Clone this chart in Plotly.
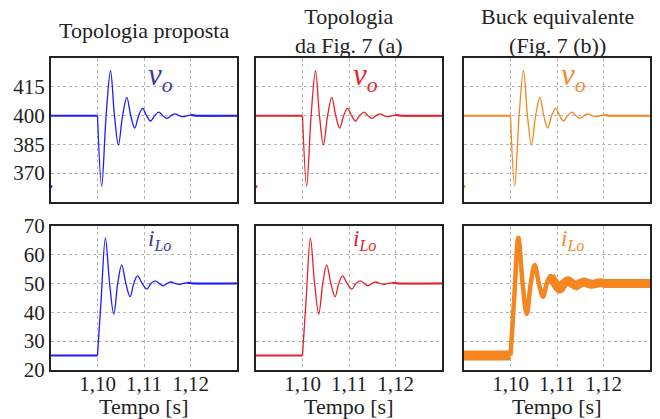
import plotly.graph_objects as go

# ---------------- data ----------------
t_pre = [1.09, 1.10]
v_pre = [400, 400]
i_pre = [25, 25]
t_init = [1.09]
v_init = [363]

t_v = [1.1000, 1.1009, 1.10185, 1.1028, 1.10365, 1.1045, 1.1054, 1.1063, 1.10715,
       1.1080, 1.10885, 1.1097, 1.11055, 1.1114, 1.1123, 1.1132, 1.11405, 1.1149,
       1.1158, 1.1167, 1.11755, 1.1184, 1.1193, 1.1201, 1.1212, 1.1300]
v_o = [400, 363.2, 400, 423.5, 400, 384.7, 400, 409.6, 400,
       393.5, 400, 403.8, 400, 397.2, 400, 401.8, 400, 398.6,
       400, 400.9, 400, 399.5, 400, 400.4, 400, 400]

t_i = [1.1000, 1.1008, 1.1017, 1.1026, 1.1035, 1.10435, 1.1052, 1.1061, 1.1070,
       1.1078, 1.1086, 1.1096, 1.1106, 1.1115, 1.1124, 1.11325, 1.1141, 1.11495,
       1.1158, 1.1167, 1.1176, 1.11845, 1.1193, 1.1205, 1.1300]
i_Lo = [25, 45, 65.8, 50, 39.4, 50, 56.4, 50, 45.4,
        50, 52.6, 50, 48.0, 50, 50.9, 50, 49.2, 50,
        50.5, 50, 49.7, 50, 50.2, 50, 50]

col_titles = ["Topologia proposta", "Topologia<br>da Fig. 7 (a)", "Buck equivalente<br>(Fig. 7 (b))"]
line_colors = ["#1e1efa", "#e5222b", "#f5861f"]
label_colors = ["#3b3b9b", "#e5222b", "#f38a2c"]

x_ticks = [1.10, 1.11, 1.12]
x_ticktext = ["1,10", "1,11", "1,12"]
v_ticks = [370, 385, 400, 415]
i_ticks = [20, 30, 40, 50, 60, 70]

x_range = [1.09, 1.13]
v_range = [355, 430]
i_range = [20, 70]

# ---------------- layout geometry ----------------
W, H = 660, 419
x_dom_px = [(51, 237), (256, 442), (464, 650)]
top_px = (58.3, 201.7)
bot_px = (225.7, 370)

def ydom(p):
    return [1 - p[1] / H, 1 - p[0] / H]

FONT = "Liberation Serif"
fig = go.Figure()
layout = {}
annotations = []

for c in range(3):
    xd = [x_dom_px[c][0] / W, x_dom_px[c][1] / W]
    for r in range(2):
        k = r * 3 + c + 1
        xa = "xaxis" if k == 1 else f"xaxis{k}"
        ya = "yaxis" if k == 1 else f"yaxis{k}"
        xr = "x" if k == 1 else f"x{k}"
        yr = "y" if k == 1 else f"y{k}"
        layout[xa] = dict(
            domain=xd, anchor=yr, range=x_range, tickvals=x_ticks, ticktext=x_ticktext,
            showticklabels=(r == 1), showgrid=True, gridcolor="#b4b4b4", griddash="dot",
            gridwidth=1, showline=True, mirror=True, linecolor="#222222", linewidth=2,
            zeroline=False, ticks="", automargin=False, ticklabelstandoff=-6,
            tickfont=dict(family=FONT, size=21, color="#222222"),
        )
        layout[ya] = dict(
            domain=ydom(top_px if r == 0 else bot_px), anchor=xr,
            range=v_range if r == 0 else i_range,
            tickvals=v_ticks if r == 0 else i_ticks,
            showticklabels=(c == 0), showgrid=True, gridcolor="#b4b4b4", griddash="dot",
            gridwidth=1, showline=True, mirror=True, linecolor="#222222", linewidth=2,
            zeroline=False, ticks="", ticklabelstandoff=0, automargin=False,
            tickfont=dict(family=FONT, size=21, color="#222222"),
        )
        col = line_colors[c]
        if r == 0:
            fig.add_trace(go.Scatter(x=t_pre, y=v_pre, mode="lines", xaxis=xr, yaxis=yr,
                                     line=dict(color=col, width=2), showlegend=False))
            fig.add_trace(go.Scatter(x=t_v, y=v_o, mode="lines", xaxis=xr, yaxis=yr,
                                     line=dict(color=col, width=1.3, shape="spline"),
                                     showlegend=False))
            fig.add_trace(go.Scatter(x=t_v[-3:], y=v_o[-3:], mode="lines", xaxis=xr, yaxis=yr,
                                     line=dict(color=col, width=2), showlegend=False))
            fig.add_trace(go.Scatter(x=t_init, y=v_init, mode="markers", xaxis=xr, yaxis=yr,
                                     marker=dict(color=col, size=3), cliponaxis=False,
                                     showlegend=False))
            annotations.append(dict(
                x=1.1105, y=430, xref=xr, yref=yr, xanchor="left", yanchor="top", yshift=3,
                text="<i>v<sub>o</sub></i>", showarrow=False,
                font=dict(family=FONT, size=31, color=label_colors[c])))
        else:
            thick_pre = 10 if c == 2 else 2
            thick_main = 4.5 if c == 2 else 1.3
            thick_tail = 9 if c == 2 else 2
            tail_start = 10 if c == 2 else 22
            fig.add_trace(go.Scatter(x=t_pre, y=i_pre, mode="lines", xaxis=xr, yaxis=yr,
                                     line=dict(color=col, width=thick_pre), showlegend=False))
            fig.add_trace(go.Scatter(x=t_i, y=i_Lo, mode="lines", xaxis=xr, yaxis=yr,
                                     line=dict(color=col, width=thick_main, shape="spline"),
                                     showlegend=False))
            fig.add_trace(go.Scatter(x=t_i[tail_start:], y=i_Lo[tail_start:], mode="lines",
                                     xaxis=xr, yaxis=yr,
                                     line=dict(color=col, width=thick_tail, shape="spline"),
                                     showlegend=False))
            annotations.append(dict(
                x=1.1105, y=70, xref=xr, yref=yr, xanchor="left", yanchor="top", yshift=2,
                text="<i>i<sub>Lo</sub></i>", showarrow=False,
                font=dict(family=FONT, size=23, color=label_colors[c])))
            annotations.append(dict(
                x=(x_dom_px[c][0] + x_dom_px[c][1]) / 2 / W, y=1 - 406 / H,
                xref="paper", yref="paper", xanchor="center", yanchor="middle",
                text="Tempo [s]", showarrow=False,
                font=dict(family=FONT, size=22, color="#222222")))
    annotations.append(dict(
        x=(x_dom_px[c][0] + x_dom_px[c][1]) / 2 / W, y=1 - 30.5 / H,
        xref="paper", yref="paper", xanchor="center", yanchor="middle",
        text=col_titles[c], showarrow=False,
        font=dict(family=FONT, size=22, color="#222222")))

fig.update_layout(
    width=W, height=H, margin=dict(l=0, r=0, t=0, b=0),
    paper_bgcolor="white", plot_bgcolor="white",
    annotations=annotations, **layout,
)

fig.write_html("out.html", config={"displayModeBar": False},
               post_script="document.body.style.margin='0px';")
